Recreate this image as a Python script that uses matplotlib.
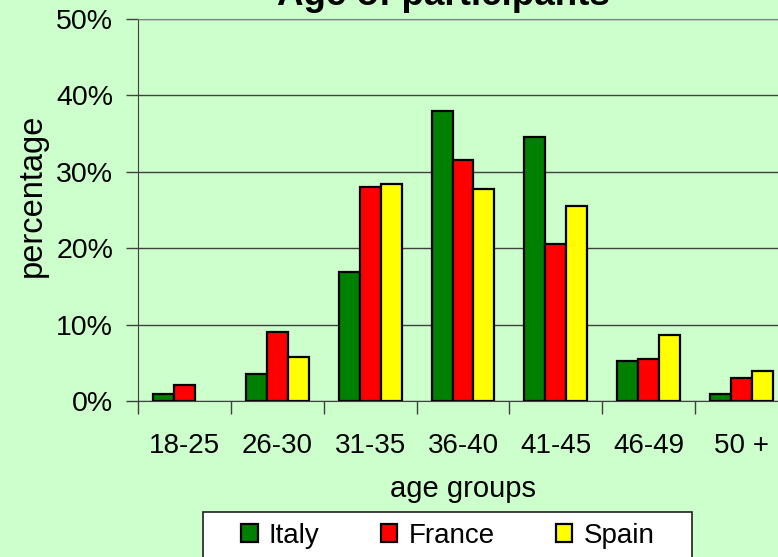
import matplotlib.pyplot as plt
import numpy as np
from matplotlib.patches import Rectangle, Patch

plt.rcParams['font.family'] = ['Liberation Sans', 'DejaVu Sans']

groups = ['18-25', '26-30', '31-35', '36-40', '41-45', '46-49', '50 +']
italy = [0.9, 3.5, 16.9, 38.0, 34.5, 5.3, 0.9]
france = [2.1, 9.0, 28.0, 31.5, 20.6, 5.5, 3.0]
spain = [0.0, 5.8, 28.4, 27.8, 25.5, 8.6, 3.9]
series = [('Italy', italy, '#008000'), ('France', france, '#FF0000'), ('Spain', spain, '#FFFF00')]

bg = '#CCFFCC'
W, H = 778, 557
fig = plt.figure(figsize=(W / 100, H / 100), dpi=100, facecolor=bg)
ax = fig.add_axes([138 / W, 1 - 401 / H, 650 / W, 382 / H], facecolor=bg)

x = np.arange(len(groups)) + 0.5
w = 0.226
handles = []
for i, (name, vals, col) in enumerate(series):
    bars = ax.bar(x + (i - 1) * w, vals, w, color=col, edgecolor='black',
                  linewidth=1.6, zorder=3)
    for b, v in zip(bars, vals):
        if v == 0:
            b.set_visible(False)
    handles.append(Patch(facecolor=col, edgecolor='black', linewidth=1.6, label=name))

ax.set_xlim(0, len(groups))
ax.set_ylim(0, 50)
ax.set_yticks(range(0, 51, 10))
ax.set_yticklabels(['%d%%' % v for v in range(0, 51, 10)], fontsize=20.5)
ax.yaxis.grid(True, color='#404040', linewidth=1.0, zorder=0)

ax.set_xticks(np.arange(len(groups) + 1))
ax.set_xticklabels([])
ax.set_xticks(x, minor=True)
ax.set_xticklabels(groups, minor=True, fontsize=20)
ax.tick_params(axis='x', which='minor', length=0, pad=23)
ax.tick_params(axis='x', which='major', length=9, width=1, color='#404040')
ax.tick_params(axis='y', length=9, width=1, color='#404040', pad=9)

ax.spines['right'].set_visible(False)
ax.spines['top'].set_color('#808080')
ax.spines['left'].set_color('#404040')
ax.spines['bottom'].set_color('#404040')

fig.text(443 / W, 1 - 5 / H, 'Age of participants', ha='center', va='baseline',
         fontsize=26.5, fontweight='bold')
fig.text(32 / W, 1 - 195 / H, 'percentage', rotation=90, ha='center', va='center', fontsize=23.5)
fig.text(463 / W, 1 - 489 / H, 'age groups', ha='center', va='center', fontsize=21)

# legend box (cut off at the bottom)
fig.patches.append(Rectangle((203 / W, -0.05), (692 - 203) / W, (0.05 + 1 - 512 / H),
                             transform=fig.transFigure, facecolor='white',
                             edgecolor='#202020', linewidth=1.2))
leg = fig.legend(handles=handles, loc='center left', bbox_to_anchor=(227 / W, 1 - 536 / H),
                 ncol=3, frameon=False, fontsize=20, borderpad=0, handlelength=0.6,
                 handleheight=0.6, handletextpad=0.4, columnspacing=2.2)

fig.savefig('out.png', dpi=100, facecolor=bg)
